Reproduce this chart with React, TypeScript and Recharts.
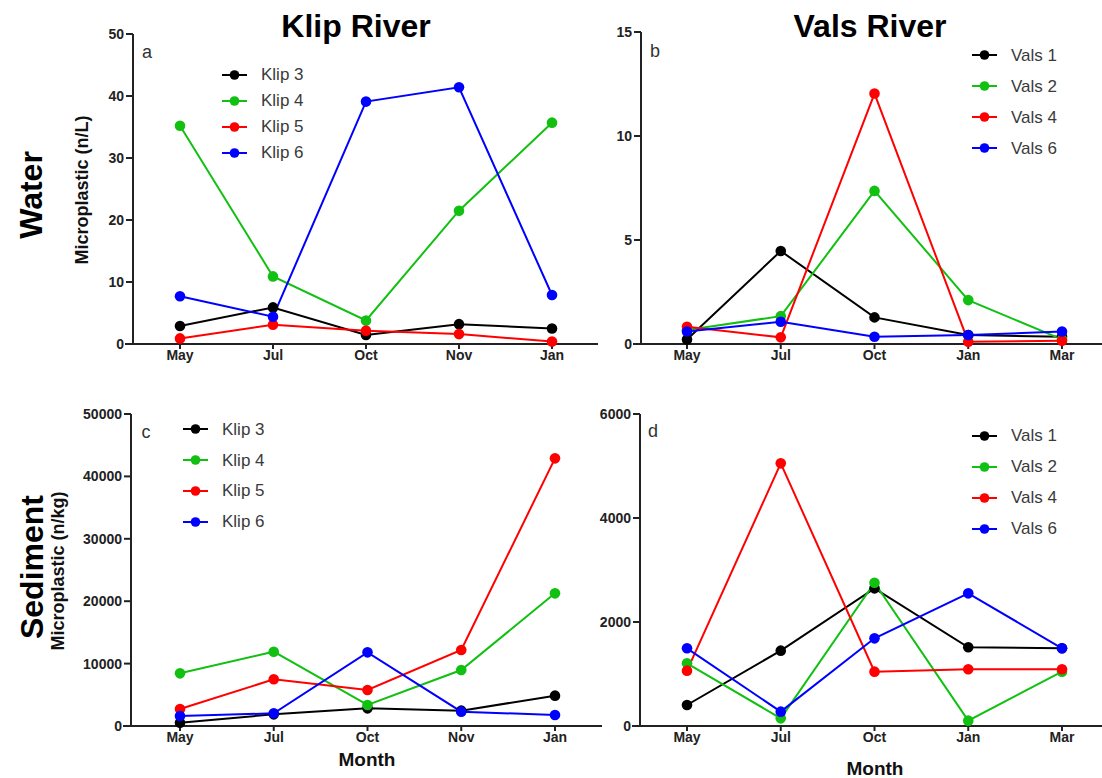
import React from "react";
import { LineChart, Line, XAxis, YAxis, Legend } from "recharts";

const FONT = "Arial, 'Liberation Sans', Helvetica, sans-serif";

// categories
const klipMonths = ["May", "Jul", "Oct", "Nov", "Jan"];
const valsMonths = ["May", "Jul", "Oct", "Jan", "Mar"];

// series names
const klipSites = ["Klip 3", "Klip 4", "Klip 5", "Klip 6"];
const valsSites = ["Vals 1", "Vals 2", "Vals 4", "Vals 6"];
const siteColors = ["#000000", "#12c012", "#ff0000", "#0000ff"];

// a) Klip River, water (n/L)
const klip3Water = [2.9, 5.9, 1.45, 3.2, 2.5];
const klip4Water = [35.2, 10.9, 3.8, 21.5, 35.7];
const klip5Water = [0.9, 3.1, 2.15, 1.6, 0.4];
const klip6Water = [7.7, 4.4, 39.1, 41.4, 7.9];

// b) Vals River, water (n/L)
const vals1Water = [0.22, 4.47, 1.28, 0.43, 0.35];
const vals2Water = [0.67, 1.34, 7.36, 2.11, 0.22];
const vals4Water = [0.83, 0.32, 12.04, 0.11, 0.16];
const vals6Water = [0.6, 1.07, 0.35, 0.43, 0.6];

// c) Klip River, sediment (n/kg)
const klip3Sed = [530, 1870, 2830, 2460, 4860];
const klip4Sed = [8440, 11910, 3370, 8970, 21260];
const klip5Sed = [2720, 7480, 5770, 12180, 42890];
const klip6Sed = [1600, 2030, 11800, 2300, 1760];

// d) Vals River, sediment (n/kg)
const vals1Sed = [404, 1449, 2647, 1513, 1494];
const vals2Sed = [1205, 147, 2756, 103, 1045];
const vals4Sed = [1064, 5051, 1045, 1090, 1090];
const vals6Sed = [1494, 276, 1686, 2551, 1494];

// y ticks
const waterKlipTicks = [0, 10, 20, 30, 40, 50];
const waterValsTicks = [0, 5, 10, 15];
const sedKlipTicks = [0, 10000, 20000, 30000, 40000, 50000];
const sedValsTicks = [0, 2000, 4000, 6000];

function buildRows(months: string[], names: string[], series: number[][]) {
  return months.map((m, i) => {
    const row: Record<string, string | number> = { month: m };
    names.forEach((n, j) => {
      row[n] = series[j][i];
    });
    return row;
  });
}

const legendRender = (rowH: number) => (props: any) => {
  const items = props.payload || [];
  return (
    <div style={{ fontFamily: FONT }}>
      {items.map((it: any) => (
        <div
          key={it.value}
          style={{ display: "flex", alignItems: "center", height: rowH }}
        >
          <svg width={26} height={12} style={{ display: "block" }}>
            <line x1={0} y1={6} x2={25} y2={6} stroke={it.color} strokeWidth={2} />
            <circle cx={12.5} cy={6} r={4.8} fill={it.color} />
          </svg>
          <span style={{ marginLeft: 13, fontSize: 17, color: "#3a3a3a", lineHeight: 1 }}>
            {it.value}
          </span>
        </div>
      ))}
    </div>
  );
};

interface PanelProps {
  left: number;
  top: number;
  width: number;
  height: number;
  margin: { top: number; right: number; bottom: number; left: number };
  yWidth: number;
  pad: { left: number; right: number };
  months: string[];
  names: string[];
  series: number[][];
  ticks: number[];
  legendLeft: number;
  legendTop: number;
  rowH: number;
}

function Panel(p: PanelProps) {
  const data = buildRows(p.months, p.names, p.series);
  const tickStyle = { fontSize: 14, fontWeight: 700, fill: "#222", fontFamily: FONT };
  const axisStroke = { stroke: "#222", strokeWidth: 2 };
  // GraphPad-style stub: x axis line runs a few px left of the y axis
  const stubX = p.margin.left + p.yWidth;
  const stubY = p.height - p.margin.bottom - 30;
  return (
    <div style={{ position: "absolute", left: p.left, top: p.top }}>
      <LineChart width={p.width} height={p.height} data={data} margin={p.margin}>
        <XAxis
          dataKey="month"
          type="category"
          padding={p.pad}
          interval={0}
          tick={tickStyle}
          tickSize={5}
          tickMargin={1}
          axisLine={axisStroke}
          tickLine={axisStroke}
          height={30}
        />
        <YAxis
          type="number"
          domain={[0, p.ticks[p.ticks.length - 1]]}
          ticks={p.ticks}
          interval={0}
          width={p.yWidth}
          tick={tickStyle}
          tickSize={7}
          tickMargin={2}
          axisLine={axisStroke}
          tickLine={axisStroke}
        />
        <Legend
          layout="vertical"
          align="center"
          verticalAlign="middle"
          content={legendRender(p.rowH)}
          wrapperStyle={{ left: p.legendLeft, top: p.legendTop, width: 160, height: "auto" }}
        />
        {p.names.map((n, j) => (
          <Line
            key={n}
            type="linear"
            dataKey={n}
            name={n}
            stroke={siteColors[j]}
            strokeWidth={2}
            dot={{ r: 5.3, fill: siteColors[j], stroke: siteColors[j], strokeWidth: 0 }}
            activeDot={false}
            isAnimationActive={false}
          />
        ))}
      </LineChart>
      <svg
        width={10}
        height={4}
        style={{ position: "absolute", left: stubX - 8, top: stubY - 2, pointerEvents: "none" }}
      >
        <line x1={0} y1={2} x2={10} y2={2} stroke="#222" strokeWidth={2} />
      </svg>
    </div>
  );
}

export default function App() {
  return (
    <div
      style={{
        position: "absolute",
        left: 0,
        top: 0,
        width: 1102,
        height: 778,
        background: "#fff",
        fontFamily: FONT,
        overflow: "hidden",
      }}
    >
      <Panel
        left={0}
        top={0}
        width={600}
        height={380}
        margin={{ top: 34, right: 2, bottom: 6, left: 0 }}
        yWidth={133}
        pad={{ left: 47, right: 46 }}
        months={klipMonths}
        names={klipSites}
        series={[klip3Water, klip4Water, klip5Water, klip6Water]}
        ticks={waterKlipTicks}
        legendLeft={222}
        legendTop={62}
        rowH={25.9}
      />
      <Panel
        left={580}
        top={0}
        width={522}
        height={380}
        margin={{ top: 32, right: 0, bottom: 6, left: 0 }}
        yWidth={61}
        pad={{ left: 46, right: 40 }}
        months={valsMonths}
        names={valsSites}
        series={[vals1Water, vals2Water, vals4Water, vals6Water]}
        ticks={waterValsTicks}
        legendLeft={392}
        legendTop={39.5}
        rowH={31.1}
      />
      <Panel
        left={0}
        top={380}
        width={604}
        height={398}
        margin={{ top: 34, right: 2, bottom: 22, left: 0 }}
        yWidth={131}
        pad={{ left: 49, right: 47 }}
        months={klipMonths}
        names={klipSites}
        series={[klip3Sed, klip4Sed, klip5Sed, klip6Sed]}
        ticks={sedKlipTicks}
        legendLeft={183}
        legendTop={34}
        rowH={30.8}
      />
      <Panel
        left={580}
        top={380}
        width={522}
        height={398}
        margin={{ top: 34, right: 0, bottom: 22, left: 0 }}
        yWidth={60}
        pad={{ left: 47, right: 40 }}
        months={valsMonths}
        names={valsSites}
        series={[vals1Sed, vals2Sed, vals4Sed, vals6Sed]}
        ticks={sedValsTicks}
        legendLeft={392}
        legendTop={40}
        rowH={31.1}
      />
      <svg
        width={1102}
        height={778}
        style={{ position: "absolute", left: 0, top: 0, pointerEvents: "none" }}
        fontFamily={FONT}
      >
        <text x={356} y={37} fontSize={32} fontWeight={700} textAnchor="middle" fill="#000">
          Klip River
        </text>
        <text x={870} y={37} fontSize={32} fontWeight={700} textAnchor="middle" fill="#000">
          Vals River
        </text>
        <text
          transform="translate(42,195) rotate(-90)"
          fontSize={32}
          fontWeight={700}
          textAnchor="middle"
          fill="#000"
        >
          Water
        </text>
        <text
          transform="translate(43,567) rotate(-90)"
          fontSize={32}
          fontWeight={700}
          textAnchor="middle"
          fill="#000"
        >
          Sediment
        </text>
        <text
          transform="translate(88,190) rotate(-90)"
          fontSize={18}
          fontWeight={700}
          textAnchor="middle"
          fill="#111"
        >
          Microplastic (n/L)
        </text>
        <text
          transform="translate(64,571) rotate(-90)"
          fontSize={18}
          fontWeight={700}
          textAnchor="middle"
          fill="#111"
        >
          Microplastic (n/kg)
        </text>
        <text x={367} y={766} fontSize={19} fontWeight={700} textAnchor="middle" fill="#111">
          Month
        </text>
        <text x={875} y={775} fontSize={19} fontWeight={700} textAnchor="middle" fill="#111">
          Month
        </text>
        <text x={147} y={58} fontSize={18} textAnchor="middle" fill="#333">a</text>
        <text x={655} y={57} fontSize={18} textAnchor="middle" fill="#333">b</text>
        <text x={146} y={438} fontSize={18} textAnchor="middle" fill="#333">c</text>
        <text x={653} y={437} fontSize={18} textAnchor="middle" fill="#333">d</text>
      </svg>
    </div>
  );
}
